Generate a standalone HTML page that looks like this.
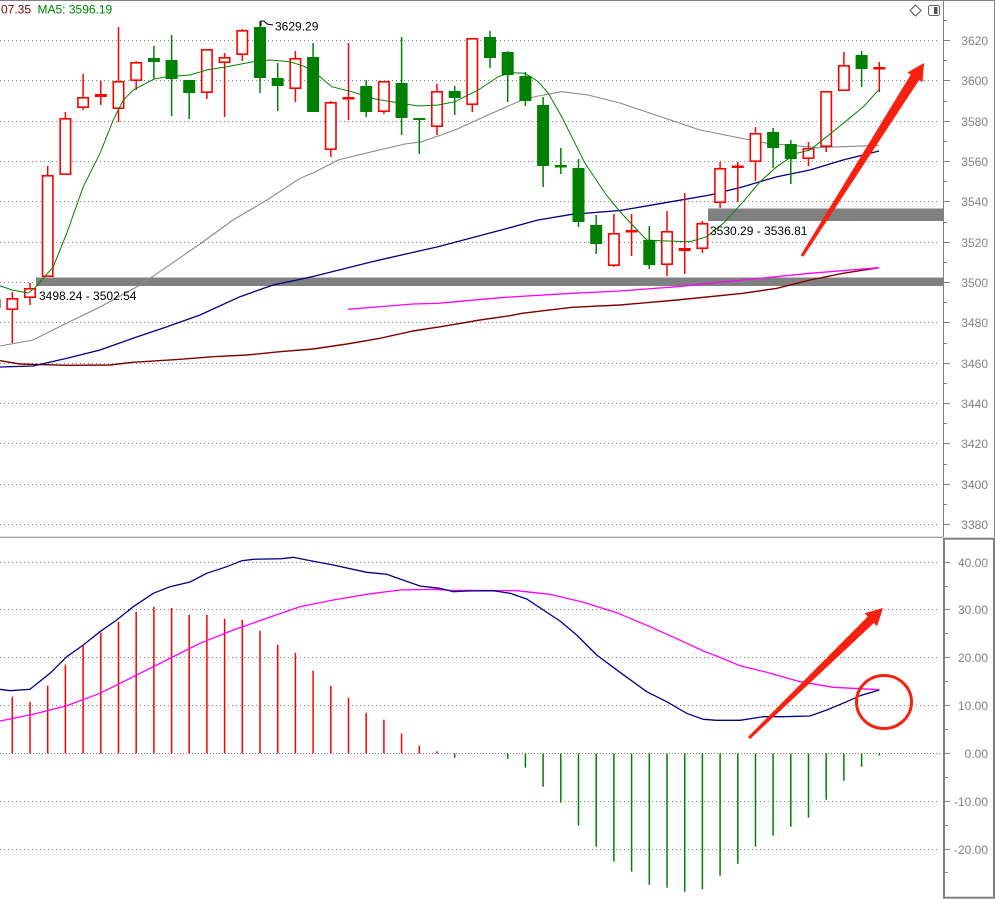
<!DOCTYPE html>
<html><head><meta charset="utf-8"><style>
html,body{margin:0;padding:0;background:#fff;}
svg{display:block;font-family:"Liberation Sans",Arial,sans-serif;}
.g{stroke:#808080;stroke-width:1;stroke-dasharray:1,3;fill:none}
.ax{font-size:12px;fill:#808080;text-anchor:end}
.rw{stroke:#ff0000;stroke-width:1.5}
.gw{stroke:#008000;stroke-width:1.5}
.rb{fill:#fff;stroke:#ff0000;stroke-width:1.6}
.gb{fill:#008000}
.rf{fill:#ff0000}
.tk{stroke:#808080;stroke-width:1}
</style></head><body>
<svg width="995" height="899" viewBox="0 0 995 899" xmlns="http://www.w3.org/2000/svg">
<rect x="0" y="0" width="995" height="899" fill="#fff"/>
<!-- top grid -->
<g class="g">
<line x1="0" y1="40.5" x2="940" y2="40.5"/><line x1="0" y1="80.5" x2="940" y2="80.5"/><line x1="0" y1="121.5" x2="940" y2="121.5"/><line x1="0" y1="161.5" x2="940" y2="161.5"/><line x1="0" y1="201.5" x2="940" y2="201.5"/><line x1="0" y1="242.5" x2="940" y2="242.5"/><line x1="0" y1="282.5" x2="940" y2="282.5"/><line x1="0" y1="322.5" x2="940" y2="322.5"/><line x1="0" y1="363.5" x2="940" y2="363.5"/><line x1="0" y1="403.5" x2="940" y2="403.5"/><line x1="0" y1="443.5" x2="940" y2="443.5"/><line x1="0" y1="484.5" x2="940" y2="484.5"/><line x1="0" y1="524.5" x2="940" y2="524.5"/>
</g>
<!-- bottom grid -->
<g class="g">
<line x1="0" y1="562.5" x2="940" y2="562.5"/><line x1="0" y1="609.5" x2="940" y2="609.5"/><line x1="0" y1="657.5" x2="940" y2="657.5"/><line x1="0" y1="705.5" x2="940" y2="705.5"/><line x1="0" y1="753.5" x2="940" y2="753.5" style="stroke-dasharray:1,2"/><line x1="0" y1="801.5" x2="940" y2="801.5"/><line x1="0" y1="849.5" x2="940" y2="849.5"/>
</g>
<!-- bands -->
<rect x="36" y="277.5" width="907" height="8.5" fill="#808080"/>
<rect x="708" y="208.5" width="235" height="12.5" fill="#808080"/>
<!-- MA lines -->
<polyline fill="none" stroke="#8a8a8a" stroke-width="1.1" points="0,346 33,340 67,323 100,307 137,286.7 150,278.3 167,266.7 200,244 233,220 267,200 300,178.3 315,172 338,160 372,151.7 405,144 422,141.7 455,130 488,115 522,100 538,96 562,91.7 588,95 620,103 700,130 767,143.3 817,147.7 879,145.3"/>
<polyline fill="none" stroke="#800000" stroke-width="1.4" points="0,360.7 20,364 67,365.3 110,365 133,362.3 180,359.3 213,356.7 247,355 280,351.7 313,349 347,344 380,338.3 413,331 447,325.7 480,320 510,315.7 522,313.3 572,307.3 620,305 677,300 743,293.3 777,288.3 810,280 843,273.3 879,267.7"/>
<polyline fill="none" stroke="#ff00ff" stroke-width="1.3" points="348,309.3 413,304 438,303.3 505,297.3 572,293.3 620,291 677,286.7 743,280 810,273.3 879,267.7"/>
<polyline fill="none" stroke="#000080" stroke-width="1.3" points="0,367 33,366 67,358.3 100,350 133,338.3 167,326.7 200,315 240,296.7 273,285 297,280 315,276 372,261.7 438,246.7 505,229 538,220 572,214.3 620,210.5 677,200.7 710,195 743,186.7 777,176.7 810,170 843,160 879,151"/>
<!-- candles -->
<g>
<rect x="-11.4" y="299" width="12" height="9" class="gb"/>
<line x1="12.3" y1="292" x2="12.3" y2="343" class="rw"/><rect x="7.1" y="298.8" width="10.4" height="10.4" class="rb"/>
<line x1="30" y1="283" x2="30" y2="305" class="rw"/><rect x="24.8" y="288.8" width="10.4" height="8.4" class="rb"/>
<line x1="47.7" y1="166" x2="47.7" y2="277" class="rw"/><rect x="42.5" y="175.8" width="10.4" height="100.4" class="rb"/>
<line x1="65.4" y1="112" x2="65.4" y2="175" class="rw"/><rect x="60.2" y="118.8" width="10.4" height="55.4" class="rb"/>
<line x1="83.1" y1="74" x2="83.1" y2="110" class="rw"/><rect x="77.9" y="97.8" width="10.4" height="9.4" class="rb"/>
<line x1="100.8" y1="81" x2="100.8" y2="105" class="rw"/><rect x="95.6" y="94.8" width="10.4" height="1.4" class="rb"/>
<line x1="118.5" y1="27" x2="118.5" y2="122" class="rw"/><rect x="113.3" y="81.8" width="10.4" height="26.4" class="rb"/>
<line x1="136.2" y1="61" x2="136.2" y2="90" class="rw"/><rect x="131" y="62.8" width="10.4" height="17.4" class="rb"/>
<line x1="153.9" y1="46" x2="153.9" y2="79" class="gw"/><rect x="147.9" y="58" width="12" height="4" class="gb"/>
<line x1="171.6" y1="35" x2="171.6" y2="116" class="gw"/><rect x="165.6" y="60" width="12" height="19" class="gb"/>
<line x1="189.2" y1="80" x2="189.2" y2="119" class="gw"/><rect x="183.2" y="80" width="12" height="13" class="gb"/>
<line x1="206.9" y1="49" x2="206.9" y2="99" class="rw"/><rect x="201.7" y="49.8" width="10.4" height="42.4" class="rb"/>
<line x1="224.6" y1="53" x2="224.6" y2="117" class="rw"/><rect x="219.4" y="57.8" width="10.4" height="4.4" class="rb"/>
<line x1="242.3" y1="29" x2="242.3" y2="61" class="rw"/><rect x="237.1" y="30.8" width="10.4" height="23.4" class="rb"/>
<line x1="260" y1="21" x2="260" y2="93" class="gw"/><rect x="254" y="27" width="12" height="51" class="gb"/>
<line x1="277.7" y1="63" x2="277.7" y2="111" class="gw"/><rect x="271.7" y="78" width="12" height="8" class="gb"/>
<line x1="295.4" y1="51" x2="295.4" y2="102" class="rw"/><rect x="290.2" y="58.8" width="10.4" height="29.4" class="rb"/>
<line x1="313.1" y1="43" x2="313.1" y2="112" class="gw"/><rect x="307.1" y="57" width="12" height="55" class="gb"/>
<line x1="330.8" y1="101" x2="330.8" y2="157" class="rw"/><rect x="325.6" y="102.8" width="10.4" height="46.4" class="rb"/>
<line x1="348.5" y1="43" x2="348.5" y2="120" class="rw"/><rect x="342.5" y="97" width="12" height="2.5" class="rf"/>
<line x1="366.2" y1="80" x2="366.2" y2="117" class="gw"/><rect x="360.2" y="86" width="12" height="26" class="gb"/>
<line x1="383.9" y1="81" x2="383.9" y2="114" class="rw"/><rect x="378.7" y="81.8" width="10.4" height="29.4" class="rb"/>
<line x1="401.6" y1="37" x2="401.6" y2="135" class="gw"/><rect x="395.6" y="83" width="12" height="35" class="gb"/>
<line x1="419.3" y1="118" x2="419.3" y2="154" class="gw"/><rect x="413.3" y="118" width="12" height="2" class="gb"/>
<line x1="437" y1="84" x2="437" y2="135" class="rw"/><rect x="431.8" y="91.8" width="10.4" height="34.4" class="rb"/>
<line x1="454.7" y1="86" x2="454.7" y2="115" class="gw"/><rect x="448.7" y="91" width="12" height="7" class="gb"/>
<line x1="472.3" y1="38" x2="472.3" y2="112" class="rw"/><rect x="467.1" y="38.8" width="10.4" height="65.4" class="rb"/>
<line x1="490" y1="31" x2="490" y2="68" class="gw"/><rect x="484" y="37" width="12" height="21" class="gb"/>
<line x1="507.7" y1="51" x2="507.7" y2="102" class="gw"/><rect x="501.7" y="52" width="12" height="23" class="gb"/>
<line x1="525.4" y1="72" x2="525.4" y2="106" class="gw"/><rect x="519.4" y="76" width="12" height="25" class="gb"/>
<line x1="543.1" y1="97" x2="543.1" y2="187" class="gw"/><rect x="537.1" y="105" width="12" height="61" class="gb"/>
<line x1="560.8" y1="148" x2="560.8" y2="174" class="gw"/><rect x="554.8" y="165" width="12" height="2.5" class="gb"/>
<line x1="578.5" y1="159" x2="578.5" y2="227" class="gw"/><rect x="572.5" y="168" width="12" height="54" class="gb"/>
<line x1="596.2" y1="215" x2="596.2" y2="254" class="gw"/><rect x="590.2" y="225" width="12" height="19" class="gb"/>
<line x1="613.9" y1="214" x2="613.9" y2="267" class="rw"/><rect x="608.7" y="233.8" width="10.4" height="31.4" class="rb"/>
<line x1="631.6" y1="214" x2="631.6" y2="256" class="rw"/><rect x="625.6" y="230" width="12" height="2.5" class="rf"/>
<line x1="649.3" y1="226" x2="649.3" y2="269" class="gw"/><rect x="643.3" y="240" width="12" height="25" class="gb"/>
<line x1="667" y1="211" x2="667" y2="276" class="rw"/><rect x="661.8" y="231.8" width="10.4" height="32.4" class="rb"/>
<line x1="684.7" y1="193" x2="684.7" y2="274" class="rw"/><rect x="679.5" y="248.8" width="10.4" height="1.4" class="rb"/>
<line x1="702.4" y1="221" x2="702.4" y2="253" class="rw"/><rect x="697.2" y="223.8" width="10.4" height="24.4" class="rb"/>
<line x1="720.1" y1="162" x2="720.1" y2="208" class="rw"/><rect x="714.9" y="168.8" width="10.4" height="33.4" class="rb"/>
<line x1="737.8" y1="162" x2="737.8" y2="202" class="rw"/><rect x="731.8" y="165.5" width="12" height="2.5" class="rf"/>
<line x1="755.5" y1="127" x2="755.5" y2="181" class="rw"/><rect x="750.3" y="133.8" width="10.4" height="27.4" class="rb"/>
<line x1="773.1" y1="128" x2="773.1" y2="168" class="gw"/><rect x="767.1" y="132" width="12" height="16" class="gb"/>
<line x1="790.8" y1="140" x2="790.8" y2="184" class="gw"/><rect x="784.8" y="144" width="12" height="15" class="gb"/>
<line x1="808.5" y1="142" x2="808.5" y2="166" class="rw"/><rect x="803.3" y="148.8" width="10.4" height="9.4" class="rb"/>
<line x1="826.2" y1="91" x2="826.2" y2="152" class="rw"/><rect x="821" y="91.8" width="10.4" height="54.4" class="rb"/>
<line x1="843.9" y1="52" x2="843.9" y2="91" class="rw"/><rect x="838.7" y="65.8" width="10.4" height="24.4" class="rb"/>
<line x1="861.6" y1="51" x2="861.6" y2="87" class="gw"/><rect x="855.6" y="55" width="12" height="14" class="gb"/>
<line x1="879.3" y1="62" x2="879.3" y2="92" class="rw"/><rect x="873.3" y="67" width="12" height="2.5" class="rf"/>
</g>
<!-- MA5 -->
<polyline fill="none" stroke="#008000" stroke-width="1" points="0,285.7 12,290 28.3,293 36,286.7 53.3,266.7 66.7,233.3 83.3,186.7 100,153.3 113.3,120 123.3,100 133.3,90 153.3,79.3 166.7,76.7 190,75 206.7,70 226.7,66.7 253.3,61.7 270,60 290,61.7 305,66.7 320,76.7 331.7,86.7 351.7,91.7 375,99 391.7,101.7 418.3,106 438.3,105 455,101.7 478.3,90 498.3,76.7 511.7,72.7 525,73.3 538.3,81.7 548.3,93.3 561.7,116.7 585,163.3 605,193 612,202 623,215 646.7,240 660,240.7 690,241.7 706.7,236.7 723.3,223.3 743.3,201.7 760,181.7 776.7,166.7 796.7,153.3 810,150 826.7,136.7 843.3,123.3 863.3,106.7 879.3,89.3"/>
<!-- labels in chart -->
<text x="1" y="13.5" font-size="12" fill="#800000">07.35</text>
<text x="37.5" y="13.5" font-size="12" fill="#008000">MA5: 3596.19</text>
<polyline fill="none" stroke="#000" stroke-width="1" points="261,26 261,21 264,21 267,24 273,25"/>
<text x="275" y="30.5" font-size="12" fill="#000">3629.29</text>
<text x="39" y="300" font-size="12" fill="#000">3498.24 - 3502.54</text>
<text x="710" y="235" font-size="12" fill="#000">3530.29 - 3536.81</text>
<!-- MACD histogram -->
<g stroke="#ff0000" stroke-width="1.5">
<line x1="12.3" y1="753.5" x2="12.3" y2="696.7"/><line x1="30" y1="753.5" x2="30" y2="702"/><line x1="47.7" y1="753.5" x2="47.7" y2="685.7"/><line x1="65.4" y1="753.5" x2="65.4" y2="664.7"/><line x1="83.1" y1="753.5" x2="83.1" y2="646"/><line x1="100.8" y1="753.5" x2="100.8" y2="632.7"/><line x1="118.5" y1="753.5" x2="118.5" y2="621.7"/><line x1="136.2" y1="753.5" x2="136.2" y2="611.7"/><line x1="153.9" y1="753.5" x2="153.9" y2="607"/><line x1="171.6" y1="753.5" x2="171.6" y2="608"/><line x1="189.2" y1="753.5" x2="189.2" y2="614.7"/><line x1="206.9" y1="753.5" x2="206.9" y2="614.7"/><line x1="224.6" y1="753.5" x2="224.6" y2="618.7"/><line x1="242.3" y1="753.5" x2="242.3" y2="619.7"/><line x1="260" y1="753.5" x2="260" y2="630.7"/><line x1="277.7" y1="753.5" x2="277.7" y2="644.7"/><line x1="295.4" y1="753.5" x2="295.4" y2="652.7"/><line x1="313.1" y1="753.5" x2="313.1" y2="670.7"/><line x1="330.8" y1="753.5" x2="330.8" y2="685.7"/><line x1="348.5" y1="753.5" x2="348.5" y2="697.7"/><line x1="366.2" y1="753.5" x2="366.2" y2="712.7"/><line x1="383.9" y1="753.5" x2="383.9" y2="719.7"/><line x1="401.6" y1="753.5" x2="401.6" y2="733.7"/><line x1="419.3" y1="753.5" x2="419.3" y2="745.7"/><line x1="437" y1="753.5" x2="437" y2="751.3"/>
</g>
<g stroke="#008000" stroke-width="1.5">
<line x1="454.7" y1="753.5" x2="454.7" y2="757.7"/><line x1="507.7" y1="753.5" x2="507.7" y2="758.7"/><line x1="525.4" y1="753.5" x2="525.4" y2="767.7"/><line x1="543.1" y1="753.5" x2="543.1" y2="786.7"/><line x1="560.8" y1="753.5" x2="560.8" y2="802.7"/><line x1="578.5" y1="753.5" x2="578.5" y2="825.7"/><line x1="596.2" y1="753.5" x2="596.2" y2="846.7"/><line x1="613.9" y1="753.5" x2="613.9" y2="861.7"/><line x1="631.6" y1="753.5" x2="631.6" y2="871.7"/><line x1="649.3" y1="753.5" x2="649.3" y2="884.7"/><line x1="667" y1="753.5" x2="667" y2="887.7"/><line x1="684.7" y1="753.5" x2="684.7" y2="891.7"/><line x1="702.4" y1="753.5" x2="702.4" y2="889.3"/><line x1="720.1" y1="753.5" x2="720.1" y2="875.7"/><line x1="737.8" y1="753.5" x2="737.8" y2="863.7"/><line x1="755.5" y1="753.5" x2="755.5" y2="846.7"/><line x1="773.1" y1="753.5" x2="773.1" y2="835.7"/><line x1="790.8" y1="753.5" x2="790.8" y2="826.7"/><line x1="808.5" y1="753.5" x2="808.5" y2="817.7"/><line x1="826.2" y1="753.5" x2="826.2" y2="799.7"/><line x1="843.9" y1="753.5" x2="843.9" y2="780.7"/><line x1="861.6" y1="753.5" x2="861.6" y2="766.7"/><line x1="879.3" y1="753.5" x2="879.3" y2="755.5"/>
</g>
<!-- MACD lines -->
<polyline fill="none" stroke="#ff00ff" stroke-width="1.3" points="0,721 33.3,714.3 66.7,705.7 100,693.3 133.3,676.7 166.7,660 200,643.3 233.3,630 266.7,618.3 300,606.7 333.3,600 366.7,594.3 400,590 433.3,589.3 450,590.3 516.7,590.7 550,594.3 583.3,602.3 616.7,612.7 650,626.7 683.3,641.7 703.3,651 716.7,656 740,665.7 766.7,672.3 800,681.7 833.3,687.3 879.3,689.7"/>
<polyline fill="none" stroke="#000080" stroke-width="1.3" points="0,689.3 10,690.7 30,689.3 50,673.3 66.7,656.7 83.3,645 100,631.7 116.7,620 133.3,606.7 153.3,593.3 170,586.7 190,582 206.7,573.3 226.7,566.7 241.7,560.7 253.3,559.3 281.7,558.7 293.3,557.3 306.7,560 333.3,565 366.7,572.3 386.7,574.3 400,579 420,586 440,588.3 453.3,591.7 466.7,591 493.3,590.7 510,593.3 526.7,599 543.3,610 560,621 576.7,635 596.7,655 620,672.3 646.7,691.7 666.7,701.7 686.7,713.3 703.3,719.3 716.7,720.3 740,720.3 763.3,716.7 783.3,716.7 810,716 826.7,710 846.7,701.7 860,695.7 879.3,690"/>
<!-- frame & axes -->
<line x1="0" y1="0.5" x2="995" y2="0.5" stroke="#808080" stroke-width="1"/>
<line x1="943.5" y1="0" x2="943.5" y2="537" stroke="#808080" stroke-width="1"/>
<line x1="994.5" y1="0" x2="994.5" y2="537" stroke="#808080" stroke-width="1"/>
<line x1="0" y1="537.2" x2="943" y2="537.2" stroke="#808080" stroke-width="1"/>
<rect x="944" y="538.7" width="50" height="359" fill="none" stroke="#808080" stroke-width="2"/>
<g class="tk">
<line x1="944" y1="40.5" x2="950" y2="40.5"/><line x1="944" y1="80.5" x2="950" y2="80.5"/><line x1="944" y1="121.5" x2="950" y2="121.5"/><line x1="944" y1="161.5" x2="950" y2="161.5"/><line x1="944" y1="201.5" x2="950" y2="201.5"/><line x1="944" y1="242.5" x2="950" y2="242.5"/><line x1="944" y1="282.5" x2="950" y2="282.5"/><line x1="944" y1="322.5" x2="950" y2="322.5"/><line x1="944" y1="363.5" x2="950" y2="363.5"/><line x1="944" y1="403.5" x2="950" y2="403.5"/><line x1="944" y1="443.5" x2="950" y2="443.5"/><line x1="944" y1="484.5" x2="950" y2="484.5"/><line x1="944" y1="524.5" x2="950" y2="524.5"/>
<line x1="944" y1="20.5" x2="947" y2="20.5"/><line x1="944" y1="60.5" x2="947" y2="60.5"/><line x1="944" y1="101.5" x2="947" y2="101.5"/><line x1="944" y1="141.5" x2="947" y2="141.5"/><line x1="944" y1="181.5" x2="947" y2="181.5"/><line x1="944" y1="222.5" x2="947" y2="222.5"/><line x1="944" y1="262.5" x2="947" y2="262.5"/><line x1="944" y1="302.5" x2="947" y2="302.5"/><line x1="944" y1="343.5" x2="947" y2="343.5"/><line x1="944" y1="383.5" x2="947" y2="383.5"/><line x1="944" y1="423.5" x2="947" y2="423.5"/><line x1="944" y1="464.5" x2="947" y2="464.5"/><line x1="944" y1="504.5" x2="947" y2="504.5"/>
<line x1="945" y1="562.5" x2="950" y2="562.5"/><line x1="945" y1="609.5" x2="950" y2="609.5"/><line x1="945" y1="657.5" x2="950" y2="657.5"/><line x1="945" y1="705.5" x2="950" y2="705.5"/><line x1="945" y1="753.5" x2="950" y2="753.5"/><line x1="945" y1="801.5" x2="950" y2="801.5"/><line x1="945" y1="849.5" x2="950" y2="849.5"/>
<line x1="945" y1="586.5" x2="948" y2="586.5"/><line x1="945" y1="633.5" x2="948" y2="633.5"/><line x1="945" y1="681.5" x2="948" y2="681.5"/><line x1="945" y1="729.5" x2="948" y2="729.5"/><line x1="945" y1="777.5" x2="948" y2="777.5"/><line x1="945" y1="825.5" x2="948" y2="825.5"/><line x1="945" y1="872.5" x2="948" y2="872.5"/>
</g>
<g class="ax">
<text x="988" y="45">3620</text><text x="988" y="85">3600</text><text x="988" y="126">3580</text><text x="988" y="166">3560</text><text x="988" y="206">3540</text><text x="988" y="247">3520</text><text x="988" y="287">3500</text><text x="988" y="327">3480</text><text x="988" y="368">3460</text><text x="988" y="408">3440</text><text x="988" y="448">3420</text><text x="988" y="489">3400</text><text x="988" y="529">3380</text>
<text x="988" y="567">40.00</text><text x="988" y="614">30.00</text><text x="988" y="662">20.00</text><text x="988" y="710">10.00</text><text x="988" y="758">0.00</text><text x="988" y="806">-10.00</text><text x="988" y="854">-20.00</text>
</g>
<!-- icons -->
<polygon points="915.5,5 921,10.5 915.5,16 910,10.5" fill="none" stroke="#555" stroke-width="1"/>
<rect x="928.5" y="5.5" width="11" height="10" rx="2" fill="#fff" stroke="#666" stroke-width="1"/>
<rect x="934" y="7" width="3.5" height="7" fill="#555"/>
<!-- annotations -->
<polygon fill="#f8200f" points="800.7,255.2 910.7,74.7 907.3,72.6 924,63 922.5,82.2 919.1,80.1 803.3,256.8"/>
<polygon fill="#f8200f" points="748,736.9 867.7,616.6 864.5,613.3 883,608 877.1,626.3 873.9,623 750,739.1"/>
<ellipse cx="884" cy="702" rx="27.5" ry="26.5" fill="none" stroke="#f8200f" stroke-width="3"/>
</svg>
</body></html>
